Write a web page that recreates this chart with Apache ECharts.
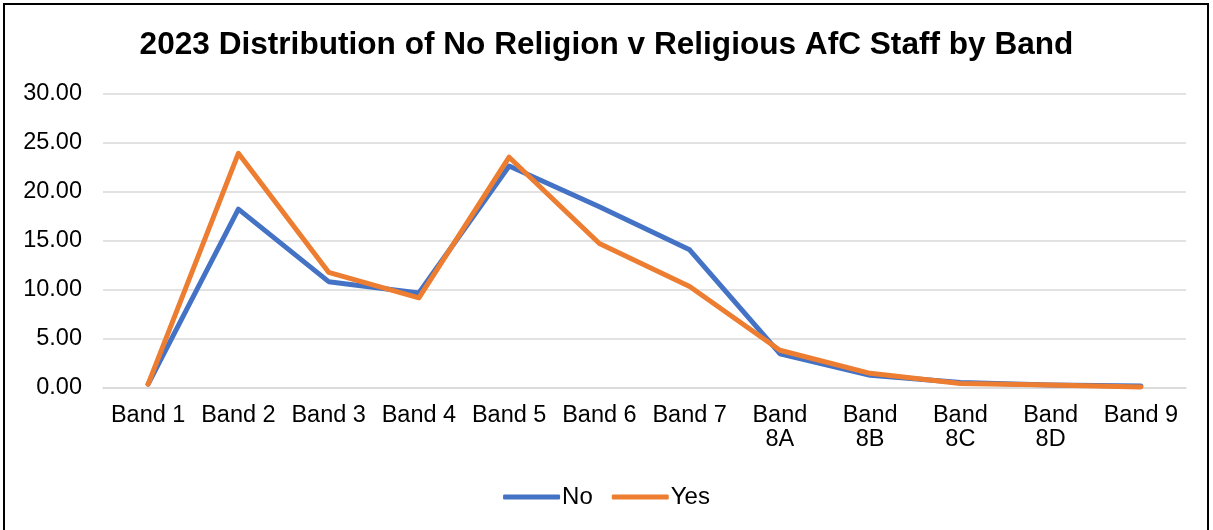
<!DOCTYPE html>
<html>
<head>
<meta charset="utf-8">
<script src="https://cdn.jsdelivr.net/npm/echarts@6/dist/echarts.min.js"></script>
<style>
html,body{margin:0;padding:0;background:#fff;}
#frame{position:absolute;left:3px;top:3px;width:1206px;height:600px;border:2px solid #000;box-sizing:border-box;}
#chart{position:absolute;left:0;top:0;width:1213px;height:530px;}
</style>
</head>
<body>
<div id="frame"></div>
<div id="chart"></div>
<script>
const titleText = '2023 Distribution of No Religion v Religious AfC Staff by Band';
const categories = ['Band 1','Band 2','Band 3','Band 4','Band 5','Band 6','Band 7','Band 8A','Band 8B','Band 8C','Band 8D','Band 9'];
const noReligion = [0.40, 18.25, 10.85, 9.70, 22.65, 18.50, 14.10, 3.50, 1.30, 0.55, 0.30, 0.20];
const religious  = [0.40, 23.95, 11.80, 9.20, 23.55, 14.75, 10.35, 3.85, 1.50, 0.45, 0.30, 0.10];
const yTicks = [0, 5, 10, 15, 20, 25, 30];

const chart = echarts.init(document.getElementById('chart'), null, {renderer:'canvas'});
const font = 'Liberation Sans, Arial, sans-serif';
const fs = 23.5;
chart.setOption({
  animation:false,
  backgroundColor:'transparent',
  title:{
    text:titleText, left:'center', top:24,
    textStyle:{fontFamily:font, fontWeight:'bold', fontSize:31.6, color:'#000'}
  },
  legend:{
    top:480, left:'center',
    icon:'roundRect', itemWidth:57, itemHeight:5, itemGap:19,
    textStyle:{fontFamily:font, fontSize:24, color:'#000', padding:[0,0,0,-3]},
    data:['No','Yes']
  },
  grid:{left:103, right:27, top:94, bottom:142},
  xAxis:{
    type:'category', data:categories, boundaryGap:true,
    axisLine:{show:true, lineStyle:{color:'#d9d9d9', width:1.5}},
    axisTick:{show:false},
    axisLabel:{
      fontFamily:font, fontSize:fs, color:'#000', margin:16, lineHeight:24, interval:0,
      formatter:function(v){ return v.length>6 ? v.replace(' ','\n') : v; }
    }
  },
  yAxis:{
    type:'value', min:yTicks[0], max:yTicks[yTicks.length-1], interval:yTicks[1]-yTicks[0],
    axisLine:{show:false}, axisTick:{show:false},
    splitLine:{lineStyle:{color:'#d9d9d9', width:1.5}},
    axisLabel:{fontFamily:font, fontSize:fs, color:'#000', margin:21,
      formatter:function(v){ return v.toFixed(2); }}
  },
  series:[
    {name:'No', type:'line', data:noReligion, showSymbol:false, symbol:'none',
     color:'#4472C4', lineStyle:{width:5, color:'#4472C4', cap:'round', join:'round'}},
    {name:'Yes', type:'line', data:religious, showSymbol:false, symbol:'none',
     color:'#ED7D31', lineStyle:{width:5, color:'#ED7D31', cap:'round', join:'round'}}
  ]
});
</script>
</body>
</html>
